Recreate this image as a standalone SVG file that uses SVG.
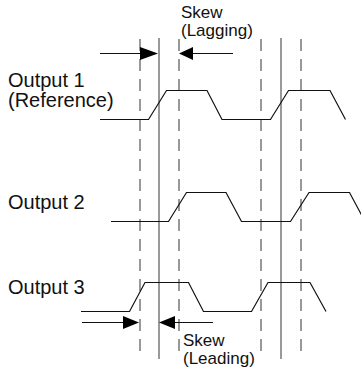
<svg xmlns="http://www.w3.org/2000/svg" width="361" height="367" viewBox="0 0 361 367">
<style>
.lbl{font-family:"Liberation Sans",Arial,sans-serif;font-size:20px;fill:#111}
.sk{font-family:"Liberation Sans",Arial,sans-serif;font-size:17px;fill:#111}
.dash{stroke:#333;stroke-width:1;stroke-dasharray:12 8;fill:none}
.solid{stroke:#777;stroke-width:1.5;fill:none}
.wave{stroke:#111;stroke-width:1.2;fill:none;stroke-linejoin:miter}
.arr{stroke:#111;stroke-width:1;fill:none}
.head{fill:#000}
</style>
<rect width="361" height="367" fill="#fff"/>
<g id="guides">
<line class="dash" x1="140" y1="39" x2="140" y2="358"/>
<line class="solid" x1="159" y1="38" x2="159" y2="359"/>
<line class="dash" x1="179" y1="39" x2="179" y2="358"/>
<line class="dash" x1="261" y1="39" x2="261" y2="358"/>
<line class="solid" x1="281" y1="38" x2="281" y2="359"/>
<line class="dash" x1="301" y1="39" x2="301" y2="358"/>
</g>
<g id="output1">
<text class="lbl" x="8" y="87">Output 1<tspan x="8" dy="20">(Reference)</tspan></text>
<polyline class="wave" points="100,119.5 148.5,119.5 166.5,90.5 207,90.5 222,119.5 270.5,119.5 288.5,90.5 330,90.5 345.5,119.5"/>
</g>
<g id="output2">
<text class="lbl" x="8" y="209">Output 2</text>
<polyline class="wave" points="111,221.5 168.5,221.5 186.5,192.5 226,192.5 241.5,221.5 290.5,221.5 309,192.5 349.5,192.5 365,221.5"/>
</g>
<g id="output3">
<text class="lbl" x="8" y="294">Output 3</text>
<polyline class="wave" points="81,311.5 129.5,311.5 145,282.5 188.5,282.5 203.5,311.5 251.5,311.5 268,282.5 310,282.5 326,311.5"/>
</g>
<g id="connectors">
<line class="arr" x1="100" y1="53.5" x2="141" y2="53.5"/>
<polygon class="head" points="140,47 158,53.5 140,60"/>
<line class="arr" x1="192" y1="53.5" x2="233" y2="53.5"/>
<polygon class="head" points="193,47 179,53.5 193,60"/>
<line class="arr" x1="82" y1="322.5" x2="124" y2="322.5"/>
<polygon class="head" points="123,316 139,322.5 123,329"/>
<line class="arr" x1="173" y1="322.5" x2="213" y2="322.5"/>
<polygon class="head" points="175,316 159,322.5 175,329"/>
</g>
<g id="skew-lagging">
<text class="sk" x="181" y="18">Skew<tspan x="181" dy="18">(Lagging)</tspan></text>
</g>
<g id="skew-leading">
<text class="sk" x="183" y="346">Skew<tspan x="183" dy="18">(Leading)</tspan></text>
</g>
</svg>
